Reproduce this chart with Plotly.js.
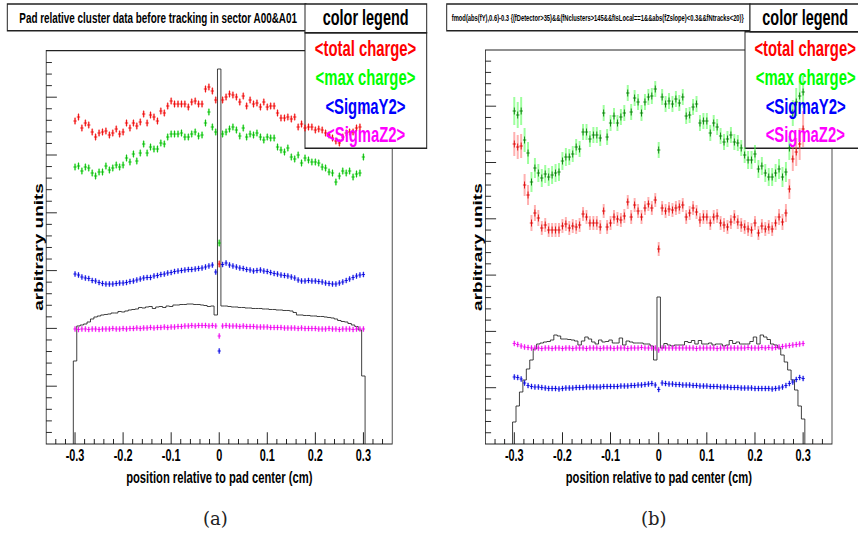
<!DOCTYPE html>
<html><head><meta charset="utf-8">
<script src="https://cdn.plot.ly/plotly-3.0.1.min.js"></script>
<style>
html,body{margin:0;padding:0;overflow:hidden;background:#fff;width:858px;height:534px;}
#chart{position:absolute;left:0;top:0;width:1300px;height:534px;transform:scaleX(0.66);transform-origin:0 0;}
#captions{position:absolute;left:0;top:0;width:858px;height:534px;pointer-events:none;}
</style></head><body>
<div id="chart"></div><div id="captions"></div>
<script>
// ---------------- data (arbitrary units) ----------------
const binLow = -0.3, binHigh = 0.3, nBins = 85;

const totalChargeA = [323,327,316,321,319,312,307,311,312,313, 309,311,315,310,312,321,316,321,318,322,
 330,321,329,327,323,333,331,338,343,340, 340,340,340,337,342,343,340,340,355,357,
 353,344,180,344,347,350,349,347,342,348, 338,344,340,341,337,342,337,338,338,331,
 326,326,327,325,327,317,320,316,317,317, 314,315,314,311,309,306,303,301,307,311,
 312,312,316,317,334];
const maxChargeA = [277,278,273,277,276,271,268,272,272,278, 274,276,279,277,279,286,282,290,283,291,
 300,291,297,295,295,301,300,307,310,310, 310,311,307,307,310,312,308,309,321,332,
 317,312,201,310,312,315,317,314,308,316, 307,310,309,311,307,304,307,306,306,297,
 294,292,296,287,285,289,281,286,284,282, 282,281,277,276,272,271,262,268,273,271,
 273,267,270,271,287];
const sigmaY2A = [170,169,167,166,165.5,163.5,163,161.5,160.5,160, 160,160,160.5,161,161,161.5,162.5,163,164,165,
 166,166.5,166.5,168,168.5,169.5,170,171,171.5,172.5, 173,173.5,174,174.5,174.5,175,175.5,176,177,178,
 179,172,93,179.5,181,179,178,177,176,175.5, 174.5,174,173,173.5,174,173,172.5,171.5,170.5,170,
 169,168.5,168,167,166,164,163,163,163.5,163, 163,162.5,162,161,160.5,160,160,161,162,163.5,
 165,166.5,168,169,169.5];
const sigmaZ2A = [115,114.5,115,115,114.5,115,115,114.5,115,115, 115,115.5,115,115,115.5,115,115.5,115.5,116,115.5,
 116,116,116.5,116,116.5,116.5,117,116.5,117,117, 117.5,117.5,118,118,118.5,118,118.5,118.5,118.5,118,
 118.5,118,108,118,118.5,118,118,118,117.5,118, 117.5,117.5,117.5,117,117,117,117,116.5,116.5,116.5,
 116.5,116,116,116,116,115.5,116,115.5,115.5,115.5, 115.5,115,115,115,115.5,115,115,114.5,115,115,
 115,114.5,115,115,115];
const clustersA = [83,118,119,120,122,125,127,128,129,129.5, 130,131,131,132.5,132,133,134,134.5,135,136.5,
 136,137,137.5,135.5,137,137.5,136.5,138,137.5,139, 139,139.5,139.5,140,140,139.5,139.5,139,138.5,137.5,
 138,129,375,138,138,137.5,137,137,136.5,136.5, 136,136,135.5,135.5,135.5,135,135,134.5,134.5,134,
 134,133.5,133.5,133,131.5,129,129,128.5,128.5,128, 128,127.5,127.5,127,126.5,126,125,123.5,122.5,122,
 120.5,119,117.5,114,68];

const totalChargeB = [300,297,298,259,249,221,231,226,216,219, 214,214,214,214,218,220,216,218,217,219,
 230,227,221,221,221,217,233,217,221,227, 225,224,228,242,227,239,233,227,236,240,
 236,244,195,236,233,235,234,236,237,239, 227,231,236,232,224,227,227,221,227,228,
 221,219,217,222,227,222,219,217,215,214, 221,211,218,215,217,215,221,227,222,231,
 255,285,292,300,315];
const maxChargeB = [333,329,333,304,291,262,276,271,266,270, 267,269,271,272,283,287,287,290,297,295,
 312,312,305,309,309,306,331,307,321,328, 321,327,331,351,332,346,342,331,342,347,
 348,355,294,347,340,343,340,345,341,347, 328,329,337,340,321,323,323,311,321,317,
 308,302,305,309,302,301,296,289,284,284, 290,275,278,271,267,267,271,275,267,272,
 296,331,342,348,352];
const sigmaY2B = [67,66.5,65,61,58.5,57.5,57,57,56.5,56, 55.5,55.5,55.5,55,55.5,56,56,56,56.5,56.5,
 56.5,57,57,57,57,57,57.5,57.5,57.5,57.5, 57.5,58,58,58,58.5,58.5,59,59,59.5,60,
 60.5,59,54.5,61,60.5,60,60,59.5,59.5,59, 59,59,58.5,58.5,58,58,58,57.5,57.5,57.5,
 57,57,57,56.5,56.5,56.5,56,56,56,56, 55.5,55.5,55.5,55.5,55.5,55,55.5,56,57,58.5,
 60.5,62,64.5,66.5,65.5];
const sigmaZ2B = [100.5,99.5,98,97,96.5,96,96,96,95.5,96, 96,95.5,96,96,95.5,96,96,95.5,96,96,
 96,95.5,96,96,96,95.5,96,96,96,95.5, 96,96,96,95.5,96,96,96,96.5,96,96,
 96,96,94,96,96,96,96,96,96,96, 96,96,96,95.5,96,96,96,96,96,95.5,
 96,96,96,96,96,96,96,96,96.5,96, 96,96,96.5,96,96.5,96,96.5,97,97.5,98,
 98.5,99,99.5,100,100.5];
const clustersB = [22,38,52,64,75,84,95,100,101,102, 102.5,104,109,108,105,105,104.5,104,103,99,
 103,107,105,102,100,104,102,102.5,104,101, 101,106,99,103,102,101,101,101,100,100,
 98,84,147,96,100.5,99,98,99,99,99, 102.5,101.5,103.5,100,103.5,100,100,101,99,100,
 100,98,99,103.5,100.5,102,100,100,100,102.5, 107,100,109,107,104.5,100,99,96,89,82,
 74,64,54,38,25];
const errTotalB = [12,12,12,11,10,8,8,8,7,7, 7,7,7,7,7,7,7,7,7,7, 7,7,7,7,7,7,7,7,7,7, 7,7,7,7,7,7,7,7,7,7,
 7,7,7,7,7,7,7,7,7,7, 7,7,7,7,7,7,7,7,7,7, 7,7,7,7,7,7,7,7,7,7, 7,7,7,7,7,7,7,8,8,9, 10,12,14,16,18];
const errMaxB = [14,13,14,12,11,10,10,9,9,9, 9,9,9,9,9,9,8,8,8,8, 8,8,8,8,8,8,8,8,8,8, 8,8,8,8,8,8,8,8,8,8,
 8,8,8,8,8,8,8,8,8,8, 8,8,8,8,8,8,8,8,8,8, 8,8,8,8,8,8,8,8,9,9, 9,9,9,9,9,9,9,10,10,10, 12,13,14,15,16];
const errA = {total:3, max:3, sy:2.5, sz:2.5};

const legendLabels = ['&lt;total charge&gt;', '&lt;max charge&gt;', '&lt;SigmaY2&gt;', '&lt;SigmaZ2&gt;'];
const legendColors = ['#ff0000', '#00ff00', '#0000ff', '#ff00ff'];
const titleA = 'Pad relative cluster data before tracking in sector A00&amp;A01';
const titleB = 'fmod(abs(fY),0.6)-0.3 {(fDetector&gt;35)&amp;&amp;(fNclusters&gt;145&amp;&amp;fIsLocal==1&amp;&amp;abs(fZslope)&lt;0.3&amp;&amp;fNtracks&lt;20)}';
const xTitle = 'position relative to pad center (cm)';
const yTitle = 'arbitrary units';

// ---------------- build ----------------
const K = 0.66;            // horizontal squeeze of the original canvases
const binW = (binHigh - binLow) / (nBins - 1);
const centers = Array.from({length:nBins}, (_, i) => binLow + i * binW);

function histTrace(vals, xa, ya){
  const xs = [centers[0] - binW/2], ys = [0];
  vals.forEach((v, i) => { xs.push(centers[i] - binW/2); ys.push(v); });
  xs.push(centers[nBins-1] + binW/2); ys.push(0);
  return {type:'scatter', mode:'lines', x:xs, y:ys, xaxis:xa, yaxis:ya,
    line:{shape:'hv', color:'#1a1a1a', width:1}, hoverinfo:'skip', showlegend:false};
}
function ptsTrace(vals, err, xa, ya, dark, light, thick, msize){
  const ey = Array.isArray(err) ? {type:'data', array:err} : {type:'constant', value:err};
  Object.assign(ey, {width:0, thickness:thick, color:light, visible:true});
  return {type:'scatter', mode:'markers', x:centers, y:vals, xaxis:xa, yaxis:ya,
    marker:{symbol:'line-ns', size:msize, color:dark, line:{color:dark, width:1.3}},
    error_x:{type:'constant', value:0.0035, width:0, thickness:1, color:dark, visible:true},
    error_y:ey, hoverinfo:'skip', showlegend:false};
}

const traces = [
  histTrace(clustersA, 'x', 'y'),
  ptsTrace(totalChargeA, errA.total, 'x', 'y', '#ee0000', 'rgba(255,60,60,0.45)', 3, 5),
  ptsTrace(maxChargeA, errA.max, 'x', 'y', '#00b400', 'rgba(60,255,60,0.5)', 3, 5),
  ptsTrace(sigmaY2A, errA.sy, 'x', 'y', '#0000dd', 'rgba(80,80,255,0.45)', 3, 4),
  ptsTrace(sigmaZ2A, errA.sz, 'x', 'y', '#ee00ee', 'rgba(255,80,255,0.45)', 3, 4),
  histTrace(clustersB, 'x2', 'y2'),
  ptsTrace(totalChargeB, errTotalB, 'x2', 'y2', '#dd0000', 'rgba(255,80,80,0.45)', 3, 5),
  ptsTrace(maxChargeB, errMaxB, 'x2', 'y2', '#007a00', 'rgba(60,255,60,0.5)', 3, 5),
  ptsTrace(sigmaY2B, errA.sy, 'x2', 'y2', '#0000dd', 'rgba(80,80,255,0.45)', 3, 4),
  ptsTrace(sigmaZ2B, errA.sz, 'x2', 'y2', '#ee00ee', 'rgba(255,80,255,0.45)', 3, 4)
];

const REFW = 858, H = 534;
const px = v => v / REFW;
const py = v => 1 - v / H;
const FONT = 'Liberation Sans, Arial, Helvetica, sans-serif';
const minus = '\u2212';

function xAxis(d0, d1, anchor){
  return {domain:[px(d0), px(d1)], range:[-0.36, 0.36], anchor:anchor, tick0:0, dtick:0.1,
    ticks:'inside', ticklen:11.7, tickwidth:1.3, tickcolor:'#000', showgrid:false, zeroline:false, showline:false,
    tickfont:{family:FONT, size:16.5, color:'#000', weight:'bold'}, ticklabelstandoff:0,
    labelalias:{[minus+'0.3']:'-0.3', [minus+'0.2']:'-0.2', [minus+'0.1']:'-0.1'},
    minor:{tick0:0, dtick:0.02, ticks:'inside', ticklen:5, tickwidth:1.3, tickcolor:'#000', showgrid:false},
    fixedrange:true};
}
function yAxis(top, maxV, step, anchor){
  return {domain:[py(444), py(top)], range:[0, maxV], anchor:anchor, tick0:0, dtick:step,
    ticks:'inside', ticklen:10.7/K, tickwidth:1, tickcolor:'#000', showticklabels:false,
    showgrid:false, zeroline:false, showline:false,
    minor:{tick0:0, dtick:step/5, ticks:'inside', ticklen:5.7/K, tickwidth:1, tickcolor:'#000', showgrid:false},
    fixedrange:true};
}

function rect(x0, x1, y0, y1, layer, fill, lw){
  return {type:'rect', xref:'paper', yref:'paper', x0:px(x0), x1:px(x1), y0:py(y1), y1:py(y0),
    layer:layer, fillcolor:fill, line:{color:'#222', width:lw}};
}
const shapes = [
  rect(46.2, 392.2, 50.7, 444, 'below', 'rgba(0,0,0,0)', 1.2),
  rect(485.4, 832, 50, 444, 'below', 'rgba(0,0,0,0)', 1.2),
  rect(305, 426.7, 32.7, 148.3, 'below', '#fff', 1.5),
  rect(745, 867, 31.7, 148.3, 'below', '#fff', 1.5),
  rect(7.3, 306, 4, 30.7, 'above', '#fff', 1.5),
  rect(305, 426.7, 4, 32.7, 'above', '#fff', 1.5),
  rect(446.7, 750, 4, 30.7, 'above', '#fff', 1.5),
  rect(750, 872, 4, 31.7, 'above', '#fff', 1.5)
];

function ann(text, x, y, size, color, extra){
  return Object.assign({text:text, xref:'paper', yref:'paper', x:px(x), y:py(y), xanchor:'center', yanchor:'middle',
    showarrow:false, font:{family:FONT, size:size, color:color, weight:'bold'}}, extra || {});
}
const annotations = [
  ann(titleA, 158, 17.5, 15, '#000'),
  ann(titleB, 597.8, 17.5, 8.8, '#000'),
  ann('color legend', 365.5, 17.5, 21.9, '#000'),
  ann('color legend', 805.5, 17.5, 21.9, '#000'),
  ann(xTitle, 218.8, 477.5, 17, '#000'),
  ann(xTitle, 658.7, 477.5, 17, '#000'),
  ann(yTitle, 39, 246.7, 19, '#000', {textangle:-90}),
  ann(yTitle, 478, 246.7, 19, '#000', {textangle:-90})
];
const entryY = [48.7, 77.5, 106.5, 134.5];
legendLabels.forEach((t, i) => {
  annotations.push(ann(t, 365.5, entryY[i], 22.5, legendColors[i]));
  annotations.push(ann(t, 805.5, entryY[i], 22.5, legendColors[i]));
});

const layout = {
  width:Math.round(REFW / K), height:H, margin:{l:0, r:0, t:0, b:0}, autosize:false,
  paper_bgcolor:'#fff', plot_bgcolor:'rgba(0,0,0,0)', showlegend:false,
  xaxis:xAxis(46.2, 392.2, 'y'), yaxis:yAxis(50.7, 393.3, 57.8, 'x'),
  xaxis2:xAxis(485.4, 832, 'y2'), yaxis2:yAxis(50, 394, 56.3, 'x2'),
  shapes:shapes, annotations:annotations
};
Plotly.newPlot('chart', traces, layout, {staticPlot:true, displayModeBar:false});

// sub-captions (not part of the squeezed ROOT canvases)
const captionLabels = ['(a)', '(b)'];
const captionX = [215, 654.2];
Plotly.newPlot('captions', [], {
  width:858, height:534, margin:{l:0, r:0, t:0, b:0}, autosize:false,
  paper_bgcolor:'rgba(0,0,0,0)', plot_bgcolor:'rgba(0,0,0,0)',
  xaxis:{visible:false}, yaxis:{visible:false},
  annotations: captionLabels.map((t, i) => ({text:t, xref:'paper', yref:'paper', x:captionX[i]/858, y:1-518/534,
    xanchor:'center', yanchor:'middle', showarrow:false, font:{family:'DejaVu Serif, Liberation Serif, serif', size:18, color:'#222'}}))
}, {staticPlot:true, displayModeBar:false});
</script></body></html>
